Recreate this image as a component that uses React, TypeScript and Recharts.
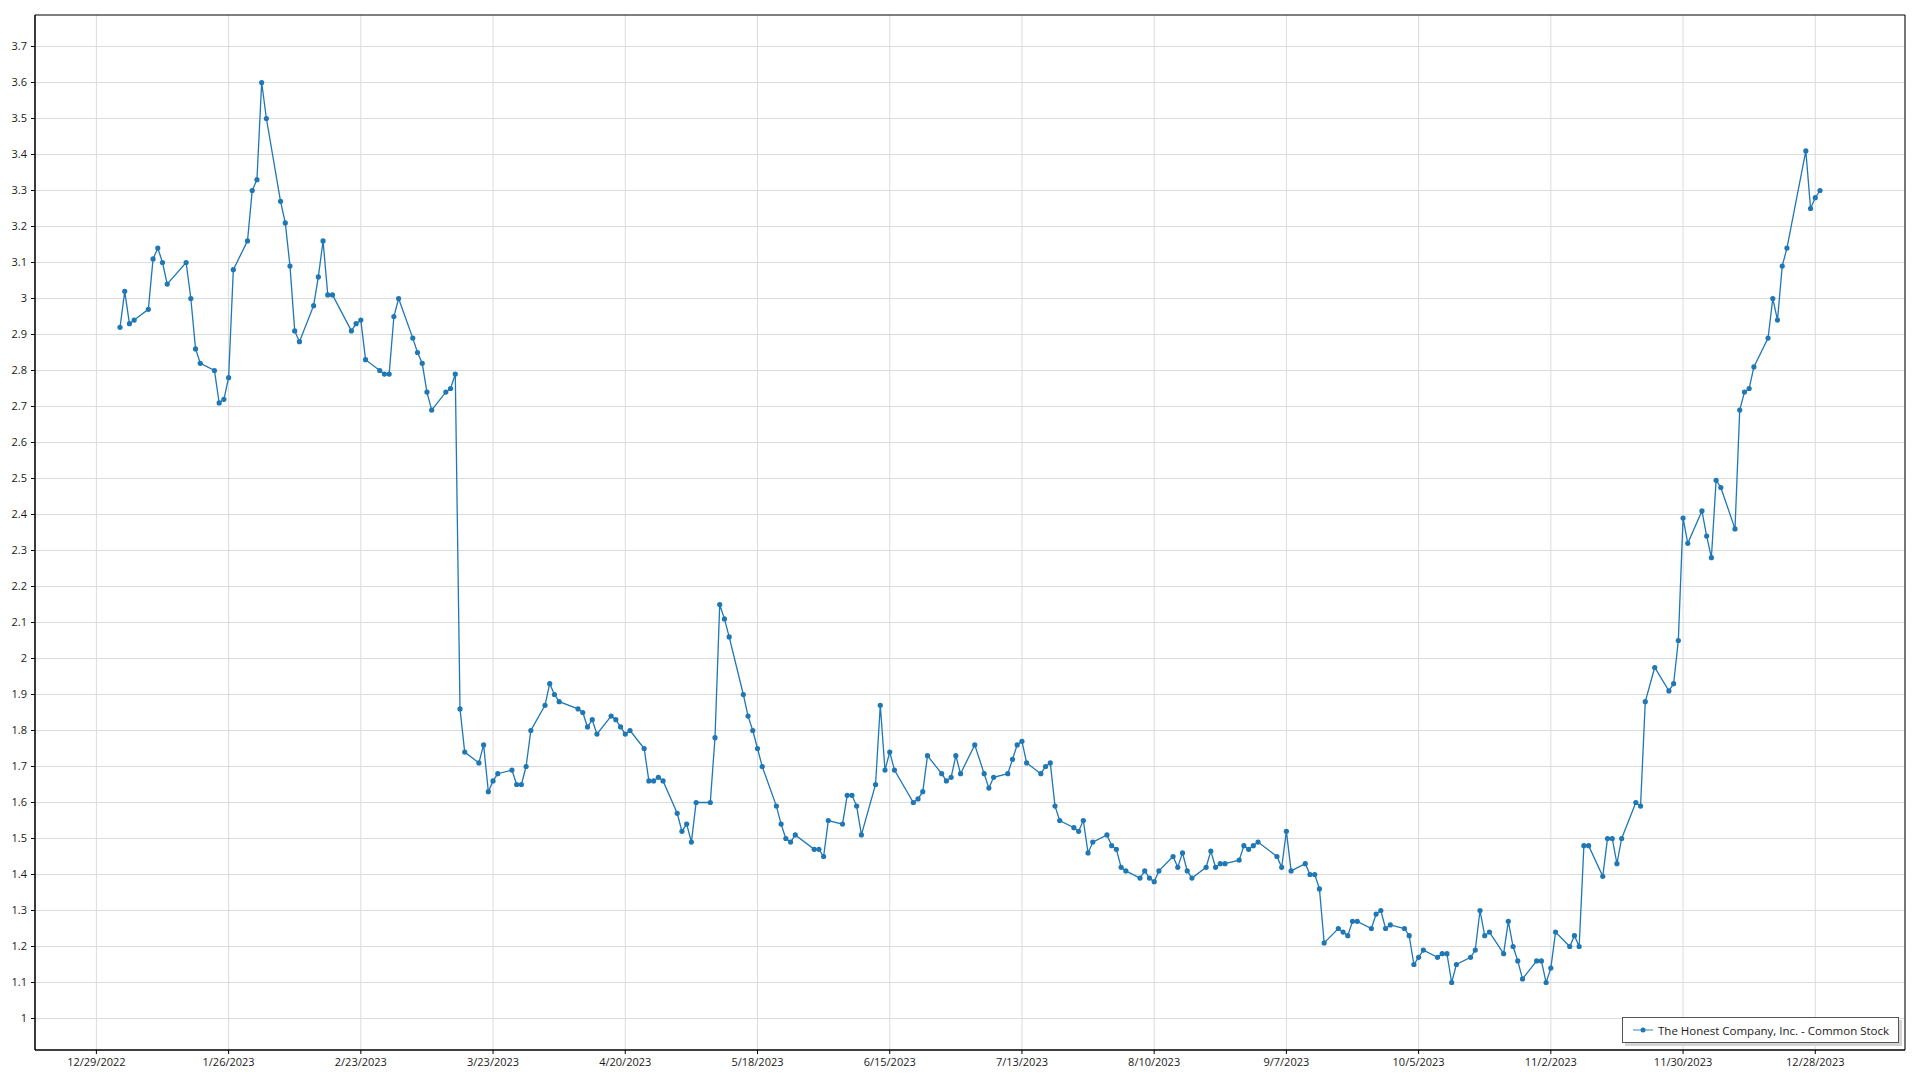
import { LineChart, Line, XAxis, YAxis, CartesianGrid, ReferenceArea } from 'recharts'

const seriesName = 'The Honest Company, Inc. - Common Stock'
const year = 2023

// trading days of 2023, one line per month
const tradeDates = [
  '1/3', '1/4', '1/5', '1/6', '1/9', '1/10', '1/11', '1/12', '1/13', '1/17', '1/18', '1/19', '1/20', '1/23', '1/24', '1/25', '1/26', '1/27', '1/30', '1/31',
  '2/1', '2/2', '2/3', '2/6', '2/7', '2/8', '2/9', '2/10', '2/13', '2/14', '2/15', '2/16', '2/17', '2/21', '2/22', '2/23', '2/24', '2/27', '2/28',
  '3/1', '3/2', '3/3', '3/6', '3/7', '3/8', '3/9', '3/10', '3/13', '3/14', '3/15', '3/16', '3/17', '3/20', '3/21', '3/22', '3/23', '3/24', '3/27', '3/28', '3/29', '3/30', '3/31',
  '4/3', '4/4', '4/5', '4/6', '4/10', '4/11', '4/12', '4/13', '4/14', '4/17', '4/18', '4/19', '4/20', '4/21', '4/24', '4/25', '4/26', '4/27', '4/28',
  '5/1', '5/2', '5/3', '5/4', '5/5', '5/8', '5/9', '5/10', '5/11', '5/12', '5/15', '5/16', '5/17', '5/18', '5/19', '5/22', '5/23', '5/24', '5/25', '5/26', '5/30', '5/31',
  '6/1', '6/2', '6/5', '6/6', '6/7', '6/8', '6/9', '6/12', '6/13', '6/14', '6/15', '6/16', '6/20', '6/21', '6/22', '6/23', '6/26', '6/27', '6/28', '6/29', '6/30',
  '7/3', '7/5', '7/6', '7/7', '7/10', '7/11', '7/12', '7/13', '7/14', '7/17', '7/18', '7/19', '7/20', '7/21', '7/24', '7/25', '7/26', '7/27', '7/28', '7/31',
  '8/1', '8/2', '8/3', '8/4', '8/7', '8/8', '8/9', '8/10', '8/11', '8/14', '8/15', '8/16', '8/17', '8/18', '8/21', '8/22', '8/23', '8/24', '8/25', '8/28', '8/29', '8/30', '8/31',
  '9/1', '9/5', '9/6', '9/7', '9/8', '9/11', '9/12', '9/13', '9/14', '9/15', '9/18', '9/19', '9/20', '9/21', '9/22', '9/25', '9/26', '9/27', '9/28', '9/29',
  '10/2', '10/3', '10/4', '10/5', '10/6', '10/9', '10/10', '10/11', '10/12', '10/13', '10/16', '10/17', '10/18', '10/19', '10/20', '10/23', '10/24', '10/25', '10/26', '10/27', '10/30', '10/31',
  '11/1', '11/2', '11/3', '11/6', '11/7', '11/8', '11/9', '11/10', '11/13', '11/14', '11/15', '11/16', '11/17', '11/20', '11/21', '11/22', '11/24', '11/27', '11/28', '11/29', '11/30',
  '12/1', '12/4', '12/5', '12/6', '12/7', '12/8', '12/11', '12/12', '12/13', '12/14', '12/15', '12/18', '12/19', '12/20', '12/21', '12/22', '12/26', '12/27', '12/28', '12/29',
]

const closePrices = [
  2.92, 3.02, 2.93, 2.94, 2.97, 3.11, 3.14, 3.10, 3.04, 3.10, 3.00, 2.86, 2.82, 2.80, 2.71, 2.72, 2.78, 3.08, 3.16, 3.30,
  3.33, 3.60, 3.50, 3.27, 3.21, 3.09, 2.91, 2.88, 2.98, 3.06, 3.16, 3.01, 3.01, 2.91, 2.93, 2.94, 2.83, 2.80, 2.79,
  2.79, 2.95, 3.00, 2.89, 2.85, 2.82, 2.74, 2.69, 2.74, 2.75, 2.79, 1.86, 1.74, 1.71, 1.76, 1.63, 1.66, 1.68, 1.69, 1.65, 1.65, 1.70, 1.80,
  1.87, 1.93, 1.90, 1.88, 1.86, 1.85, 1.81, 1.83, 1.79, 1.84, 1.83, 1.81, 1.79, 1.80, 1.75, 1.66, 1.66, 1.67, 1.66,
  1.57, 1.52, 1.54, 1.49, 1.60, 1.60, 1.78, 2.15, 2.11, 2.06, 1.90, 1.84, 1.80, 1.75, 1.70, 1.59, 1.54, 1.50, 1.49, 1.51, 1.47, 1.47,
  1.45, 1.55, 1.54, 1.62, 1.62, 1.59, 1.51, 1.65, 1.87, 1.69, 1.74, 1.69, 1.60, 1.61, 1.63, 1.73, 1.68, 1.66, 1.67, 1.73, 1.68,
  1.76, 1.68, 1.64, 1.67, 1.68, 1.72, 1.76, 1.77, 1.71, 1.68, 1.70, 1.71, 1.59, 1.55, 1.53, 1.52, 1.55, 1.46, 1.49, 1.51,
  1.48, 1.47, 1.42, 1.41, 1.39, 1.41, 1.39, 1.38, 1.41, 1.45, 1.42, 1.46, 1.41, 1.39, 1.42, 1.465, 1.42, 1.43, 1.43, 1.44, 1.48, 1.47, 1.48,
  1.49, 1.45, 1.42, 1.52, 1.41, 1.43, 1.40, 1.40, 1.36, 1.21, 1.25, 1.24, 1.23, 1.27, 1.27, 1.25, 1.29, 1.30, 1.25, 1.26,
  1.25, 1.23, 1.15, 1.17, 1.19, 1.17, 1.18, 1.18, 1.10, 1.15, 1.17, 1.19, 1.30, 1.23, 1.24, 1.18, 1.27, 1.20, 1.16, 1.11, 1.16, 1.16,
  1.10, 1.14, 1.24, 1.20, 1.23, 1.20, 1.48, 1.48, 1.395, 1.50, 1.50, 1.43, 1.50, 1.60, 1.59, 1.88, 1.975, 1.91, 1.93, 2.05, 2.39,
  2.32, 2.41, 2.34, 2.28, 2.495, 2.475, 2.36, 2.69, 2.74, 2.75, 2.81, 2.89, 3.00, 2.94, 3.09, 3.14, 3.41, 3.25, 3.28, 3.30,
]

const xTickLabels = [
  '12/29/2022', '1/26/2023', '2/23/2023', '3/23/2023', '4/20/2023', '5/18/2023', '6/15/2023',
  '7/13/2023', '8/10/2023', '9/7/2023', '10/5/2023', '11/2/2023', '11/30/2023', '12/28/2023',
]

const yTicks = [
  1, 1.1, 1.2, 1.3, 1.4, 1.5, 1.6, 1.7, 1.8, 1.9,
  2, 2.1, 2.2, 2.3, 2.4, 2.5, 2.6, 2.7, 2.8, 2.9,
  3, 3.1, 3.2, 3.3, 3.4, 3.5, 3.6, 3.7,
]

const DAY = 86400000
const toDay = (mdy: string) => {
  const [m, d, y] = mdy.split('/').map(Number)
  return Date.UTC(y, m - 1, d) / DAY
}

const data = tradeDates.map((d, i) => ({ t: toDay(`${d}/${year}`), close: closePrices[i] }))
const xTicks = xTickLabels.map(toDay)
const labelByDay = new Map(xTicks.map((t, i) => [t, xTickLabels[i]]))

// oxyplot-like padding around the data
const tMin = data[0].t
const tMax = data[data.length - 1].t
const xPad = (tMax - tMin) * 0.05
const xDomain: [number, number] = [tMin - xPad, tMax + xPad]

const vMin = Math.min(...closePrices)
const vMax = Math.max(...closePrices)
const yPad = (vMax - vMin) * 0.075
const yDomain: [number, number] = [vMin - yPad, vMax + yPad]

const minorTicks: number[] = []
for (let v = Math.ceil(yDomain[0] * 50); v <= Math.floor(yDomain[1] * 50); v++) minorTicks.push(v / 50)

const FONT = '"Open Sans", "Noto Sans", sans-serif'
const BLUE = '#1f77b4'

function LegendBox() {
  return (
    <div
      style={{
        position: 'absolute',
        left: 1622,
        top: 1017,
        width: 275,
        height: 24,
        border: '1px solid #555',
        background: '#fff',
        boxShadow: '3px 3px 0 #d4d4d4',
        display: 'flex',
        alignItems: 'center',
        fontFamily: FONT,
        fontSize: 11.5,
        color: '#1a1a1a',
      }}
    >
      <svg width={30} height={24} style={{ flex: 'none' }}>
        <line x1={10} x2={30} y1={12} y2={12} stroke={BLUE} strokeOpacity={0.6} strokeWidth={1.5} />
        <circle cx={20} cy={12} r={2.5} fill={BLUE} />
      </svg>
      <span style={{ marginLeft: 5, whiteSpace: 'nowrap' }}>{seriesName}</span>
    </div>
  )
}

export default function App() {
  return (
    <div style={{ position: 'fixed', left: 0, top: 0, width: 1920, height: 1080, background: '#fff' }}>
      <LineChart width={1920} height={1080} data={data} margin={{ top: 15, right: 15, bottom: 0, left: 0 }}>
        <CartesianGrid stroke="#dcdcdc" horizontalValues={yTicks} />
        <XAxis
          dataKey="t"
          type="number"
          domain={xDomain}
          ticks={xTicks}
          interval={0}
          allowDataOverflow
          height={30}
          tickSize={4}
          tickMargin={4}
          stroke="#000"
          tick={{ fill: '#1a1a1a', fontSize: 11, fontFamily: FONT }}
          tickFormatter={(v: number) => labelByDay.get(v) ?? ''}
        />
        <YAxis
          yAxisId="minor"
          type="number"
          domain={yDomain}
          ticks={minorTicks}
          interval={0}
          allowDataOverflow
          width={0}
          tickSize={2}
          tick={false}
          axisLine={false}
          stroke="#000"
        />
        <YAxis
          type="number"
          domain={yDomain}
          ticks={yTicks}
          interval={0}
          allowDataOverflow
          width={35}
          tickSize={4}
          tickMargin={4}
          stroke="#000"
          tick={{ fill: '#1a1a1a', fontSize: 11, fontFamily: FONT }}
          tickFormatter={(v: number) => String(Number(v.toFixed(1)))}
        />
        <ReferenceArea x1={xDomain[0]} x2={xDomain[1]} y1={yDomain[0]} y2={yDomain[1]} fill="none" stroke="#000" strokeWidth={1} ifOverflow="visible" />
        <Line
          type="linear"
          dataKey="close"
          name={seriesName}
          stroke={BLUE}
          strokeWidth={1.3}
          dot={{ r: 2.6, fill: BLUE, stroke: 'none' }}
          activeDot={false}
          isAnimationActive={false}
        />
      </LineChart>
      <LegendBox />
    </div>
  )
}
